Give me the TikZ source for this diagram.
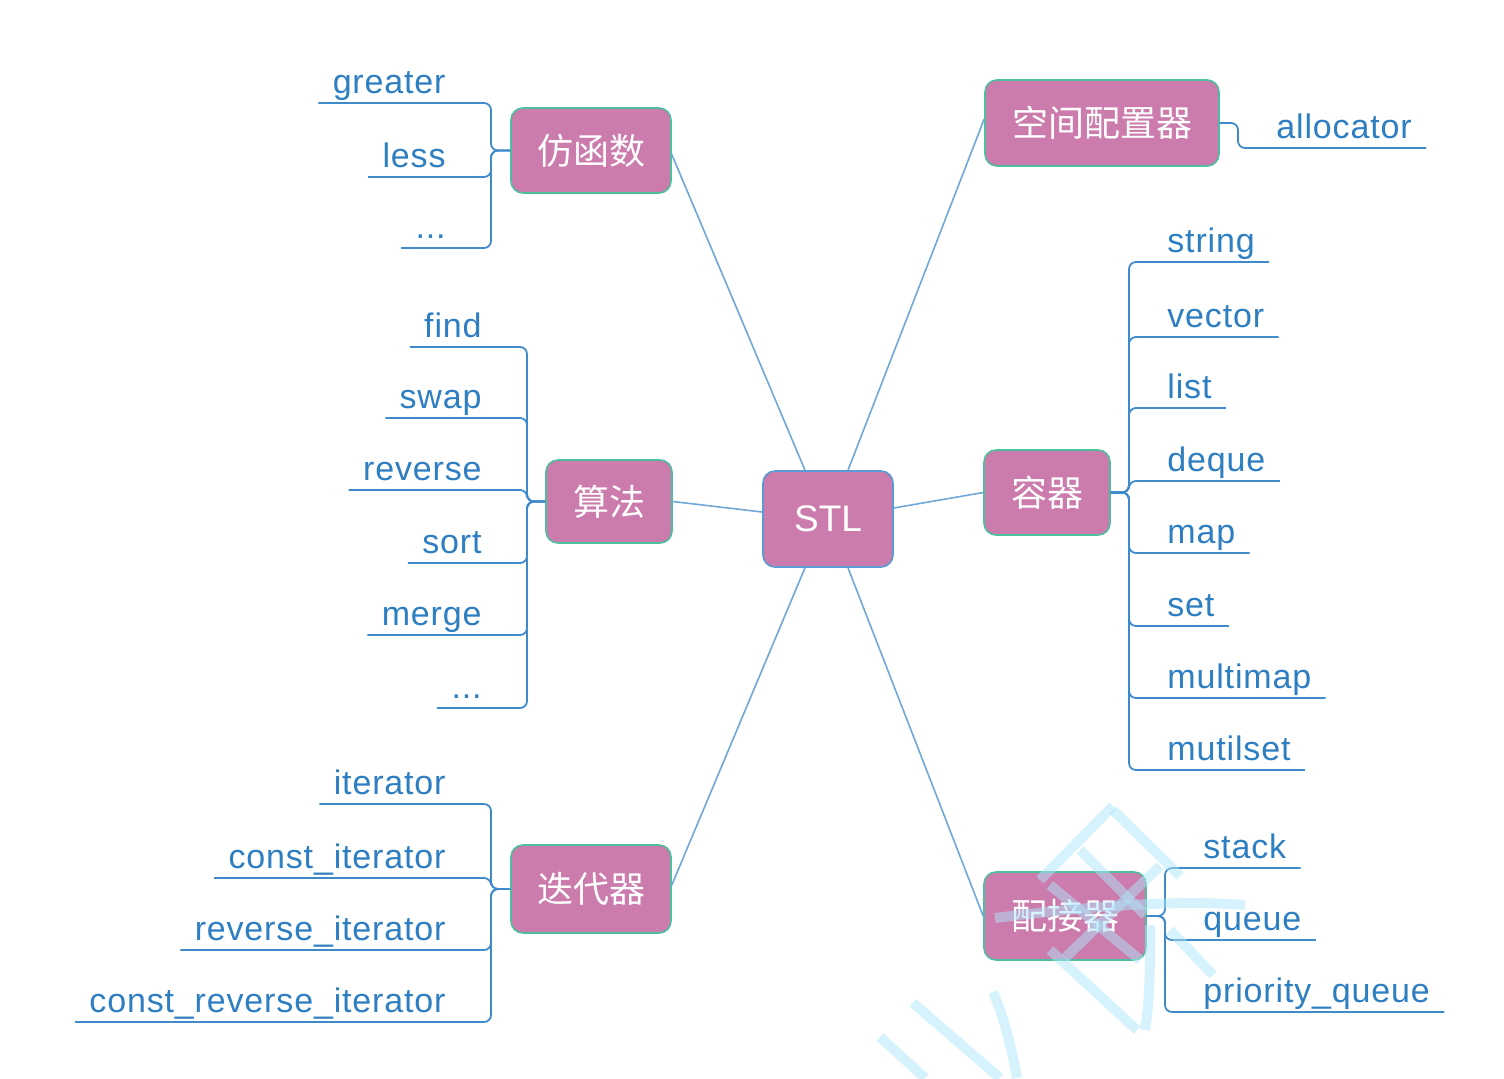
\documentclass[tikz,border=0pt]{standalone}
\usepackage{fontspec}
\setmainfont{Liberation Sans}
\newfontfamily\leaffont[LetterSpace=2.5]{Liberation Sans}
\newfontfamily\cjk{Noto Sans CJK SC}
\definecolor{boxfill}{HTML}{CB7BAC}
\definecolor{boxline}{HTML}{4DBF9E}
\definecolor{stlline}{HTML}{5B9BD5}
\definecolor{conn}{HTML}{6FA8D8}
\definecolor{leafline}{HTML}{3F8ACB}
\definecolor{leaftext}{HTML}{2E7EC2}
\definecolor{wmark}{HTML}{AEE6FA}
\tikzset{
  topic/.style={draw=boxline, line width=0.8pt, fill=boxfill, rounded corners=6pt,
    text=white, font=\cjk\fontsize{18}{20}\selectfont, inner sep=0pt},
  leaf/.style={font=\leaffont\fontsize{17}{19}\selectfont, text=leaftext, inner xsep=7pt,
    inner ysep=2.25pt, text height=0.72em, text depth=0.25em},
  branch/.style={draw=leafline, line width=0.9pt, rounded corners=3.5pt},
  link/.style={draw=conn, line width=0.8pt},
  wm/.style={draw=wmark, opacity=0.5, line width=5pt}
}
\newcommand{\lkid}[5]{% name, parent, spine x, underline y, text
  \node[leaf, anchor=south east] (#1) at (#3-31,#4) {#5};
  \coordinate (#1s) at (#3,#4);
  \draw[branch] (#1.south west) -- (#1s) -- (#1s |- #2.west) -- (#2.west);
}
\newcommand{\rkid}[5]{%
  \node[leaf, anchor=south west] (#1) at (#3+24,#4) {#5};
  \coordinate (#1s) at (#3,#4);
  \draw[branch] (#1.south east) -- (#1s) -- (#1s |- #2.east) -- (#2.east);
}
\begin{document}
\begin{tikzpicture}[x=0.5pt,y=-0.5pt]
\useasboundingbox (0,0) rectangle (1504,1078);
% topics
\node[topic, minimum width=80pt, minimum height=42.5pt] (fhs) at (591,150.5) {仿函数};
\node[topic, minimum width=117pt, minimum height=43pt] (kj) at (1102,123) {空间配置器};
\node[topic, minimum width=63pt, minimum height=41.5pt] (sf) at (609,501.5) {算法};
\node[topic, draw=stlline, minimum width=65pt, minimum height=48pt,
  font=\fontsize{18.5}{20}\selectfont] (stl) at (828,519) {STL};
\node[topic, minimum width=63pt, minimum height=42.5pt] (rq) at (1047,492.5) {容器};
\node[topic, minimum width=80pt, minimum height=44pt] (ddq) at (591,889) {迭代器};
\node[topic, minimum width=81pt, minimum height=44pt] (pjq) at (1065,916) {配接器};
% links from STL
\draw[link] ([xshift=-11.5pt]stl.north) -- ([yshift=-2pt]fhs.east);
\draw[link] ([xshift=10pt]stl.north) -- ([yshift=2pt]kj.west);
\draw[link] ([yshift=3.5pt]stl.west) -- (sf.east);
\draw[link] ([yshift=5.5pt]stl.east) -- (rq.west);
\draw[link] ([xshift=-11.5pt]stl.south) -- ([yshift=2pt]ddq.east);
\draw[link] ([xshift=10pt]stl.south) -- ([yshift=0pt]pjq.west);
% 仿函数
\lkid{greater}{fhs}{491}{103}{greater}
\lkid{less}{fhs}{491}{177}{less}
\lkid{fdots}{fhs}{491}{248}{...}
% 算法
\lkid{find}{sf}{527}{347}{find}
\lkid{swap}{sf}{527}{418}{swap}
\lkid{reverse}{sf}{527}{490}{reverse}
\lkid{sort}{sf}{527}{563}{sort}
\lkid{merge}{sf}{527}{635}{merge}
\lkid{sdots}{sf}{527}{708}{...}
% 迭代器
\lkid{it}{ddq}{491}{804}{iterator}
\lkid{cit}{ddq}{491}{878}{const\_iterator}
\lkid{rit}{ddq}{491}{950}{reverse\_iterator}
\lkid{crit}{ddq}{491}{1022}{const\_reverse\_iterator}
% 空间配置器
\rkid{alloc}{kj}{1238}{148}{allocator}
% 容器
\rkid{string}{rq}{1129}{262}{string}
\rkid{vector}{rq}{1129}{337}{vector}
\rkid{list}{rq}{1129}{408}{list}
\rkid{deque}{rq}{1129}{481}{deque}
\rkid{map}{rq}{1129}{553}{map}
\rkid{set}{rq}{1129}{626}{set}
\rkid{multimap}{rq}{1129}{698}{multimap}
\rkid{mutilset}{rq}{1129}{770}{mutilset}
% 配接器
\rkid{stack}{pjq}{1165}{868}{stack}
\rkid{queue}{pjq}{1165}{940}{queue}
\rkid{pq}{pjq}{1165}{1012}{priority\_queue}
% watermark fragment
\draw[wm] (1113,806) -- (1040,880);
\draw[wm] (1113,810) -- (1180,876);
\draw[wm] (1160,866) -- (1065,958);
\draw[wm] (1080,850) -- (1145,915);
\draw[wm] (1050,885) -- (1140,960);
\draw[wm] (1170,930) -- (1213,975);
\draw[wm] (1050,950) -- (1137,1030);
\draw[wm] (995,918) .. controls (1100,905) and (1180,900) .. (1245,905);
\draw[wm] (1150,925) .. controls (1150,970) and (1150,1000) .. (1145,1030);
\draw[wm] (913,1003) -- (1000,1078);
\draw[wm] (880,1037) -- (925,1078);
\draw[wm] (993,992) .. controls (1005,1020) and (1012,1050) .. (1017,1078);
\end{tikzpicture}
\end{document}
